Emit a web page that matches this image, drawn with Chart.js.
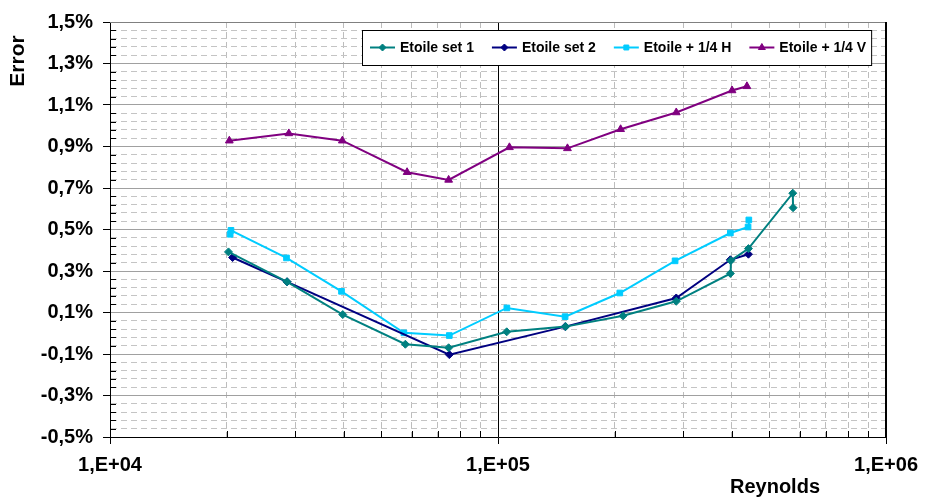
<!DOCTYPE html>
<html>
<head>
<meta charset="utf-8">
<title>Error vs Reynolds</title>
<script src="https://cdn.jsdelivr.net/npm/chart.js@4.4.1/dist/chart.umd.min.js"></script>
<style>
  html, body { margin: 0; padding: 0; background: #fff; }
  #wrap { position: relative; width: 927px; height: 498px; }
</style>
</head>
<body>
<div id="wrap"><canvas id="chartError"></canvas></div>
<script>
// values (error in %)

const seriesNames = ['Etoile set 1', 'Etoile set 2', 'Etoile + 1/4 H', 'Etoile + 1/4 V'];

const reSet1 = [2.02e4, 2.86e4, 3.98e4, 5.77e4, 7.46e4, 1.053e5, 1.494e5, 2.10e5, 2.88e5, 3.97e5, 3.98e5, 4.42e5, 5.75e5, 5.76e5];
const errSet1 = [0.392, 0.248, 0.090, -0.053, -0.070, 0.007, 0.032, 0.084, 0.154, 0.288, 0.350, 0.408, 0.675, 0.605];

const reSet2 = [2.07e4, 2.86e4, 7.49e4, 1.49e5, 2.88e5, 3.97e5, 4.42e5];
const errSet2 = [0.365, 0.248, -0.103, 0.032, 0.170, 0.354, 0.381];

const reQuarterH = [2.04e4, 2.05e4, 2.85e4, 3.95e4, 5.72e4, 7.49e4, 1.054e5, 1.489e5, 2.06e5, 2.86e5, 3.97e5, 4.41e5, 4.43e5];
const errQuarterH = [0.477, 0.496, 0.363, 0.202, 0.002, -0.011, 0.122, 0.080, 0.194, 0.349, 0.483, 0.512, 0.546];

const reQuarterV = [2.03e4, 2.89e4, 3.97e4, 5.83e4, 7.46e4, 1.07e5, 1.51e5, 2.07e5, 2.88e5, 4.01e5, 4.38e5];
const errQuarterV = [0.928, 0.963, 0.928, 0.776, 0.739, 0.896, 0.891, 0.983, 1.064, 1.170, 1.190];

const xMajorTicks = [1e4, 1e5, 1e6];
const xTickLabels = ['1,E+04', '1,E+05', '1,E+06'];
const yMajorTicks = [-0.5, -0.3, -0.1, 0.1, 0.3, 0.5, 0.7, 0.9, 1.1, 1.3, 1.5];
const yTickLabels = ['-0,5%', '-0,3%', '-0,1%', '0,1%', '0,3%', '0,5%', '0,7%', '0,9%', '1,1%', '1,3%', '1,5%'];
const yMinorStep = 0.04;

const FONT = "'Liberation Sans', Arial, Helvetica, sans-serif";
const colors = ['#008080', '#000080', '#00CCFF', '#800080'];
const pointStyles = ['rectRot', 'rectRot', 'rect', 'triangle'];
const pointSizes = [4, 4, 4, 4.5];

const indexOfMajor = (list, v) => list.findIndex((m) => Math.abs(m - v) < 1e-6 * Math.max(1, Math.abs(m)));
const isMajorX = (v) => indexOfMajor(xMajorTicks, v) >= 0;
const isMajorY = (v) => indexOfMajor(yMajorTicks, v) >= 0;

function buildXTicks() {
  const ticks = [];
  for (let d = 0; d < xMajorTicks.length - 1; d++) {
    for (let k = 1; k < 10; k++) ticks.push({ value: xMajorTicks[d] * k });
  }
  ticks.push({ value: xMajorTicks[xMajorTicks.length - 1] });
  return ticks;
}

function buildYTicks() {
  const first = yMajorTicks[0];
  const last = yMajorTicks[yMajorTicks.length - 1];
  const n = Math.round((last - first) / yMinorStep);
  const ticks = [];
  for (let i = 0; i <= n; i++) ticks.push({ value: Math.round((first + i * yMinorStep) * 1000) / 1000 });
  return ticks;
}

function toPoints(xs, ys) {
  return xs.map((x, i) => ({ x, y: ys[i] }));
}

const seriesData = [
  toPoints(reSet1, errSet1),
  toPoints(reSet2, errSet2),
  toPoints(reQuarterH, errQuarterH),
  toPoints(reQuarterV, errQuarterV),
];

function drawMarker(ctx, style, r, x, y) {
  if (Chart.helpers && Chart.helpers.drawPoint) {
    Chart.helpers.drawPoint(ctx, { pointStyle: style, radius: r, rotation: 0, borderWidth: 1 }, x, y);
    return;
  }
  ctx.beginPath();
  ctx.rect(x - r * 0.7, y - r * 0.7, r * 1.4, r * 1.4);
  ctx.fill();
}

// minor ticks inside the plot, frame, axis titles and the boxed legend
const chartDecor = {
  id: 'chartDecor',
  beforeDatasetsDraw(chart) {
    const { ctx, chartArea: area, scales: { x, y } } = chart;
    ctx.save();
    ctx.strokeStyle = '#000';
    ctx.lineWidth = 1;
    ctx.beginPath();
    x.ticks.forEach((t) => {
      if (isMajorX(t.value)) return;
      const px = Math.round(x.getPixelForValue(t.value)) + 0.5;
      ctx.moveTo(px, area.bottom);
      ctx.lineTo(px, area.bottom - 6);
    });
    y.ticks.forEach((t) => {
      if (isMajorY(t.value)) return;
      const py = Math.round(y.getPixelForValue(t.value)) + 0.5;
      ctx.moveTo(area.left, py);
      ctx.lineTo(area.left + 6, py);
    });
    ctx.stroke();

    ctx.beginPath();
    ctx.strokeStyle = '#808080';
    ctx.moveTo(area.left, Math.round(area.top) + 0.5);
    ctx.lineTo(area.right, Math.round(area.top) + 0.5);
    ctx.stroke();
    ctx.beginPath();
    ctx.strokeStyle = '#000';
    ctx.moveTo(Math.round(area.right) - 0.5, area.top);
    ctx.lineTo(Math.round(area.right) - 0.5, area.bottom);
    ctx.stroke();
    ctx.restore();
  },
  afterDraw(chart) {
    const { ctx } = chart;
    ctx.save();
    ctx.fillStyle = '#000';

    ctx.font = `bold 21px ${FONT}`;
    ctx.textAlign = 'center';
    ctx.textBaseline = 'middle';
    ctx.save();
    ctx.translate(18, 61);
    ctx.rotate(-Math.PI / 2);
    ctx.fillText('Error', 0, 0);
    ctx.restore();

    ctx.font = `bold 20px ${FONT}`;
    ctx.fillText('Reynolds', 775, 487);

    // legend
    ctx.font = `bold 14px ${FONT}`;
    const boxLeft = 362;
    const boxTop = 30;
    const boxHeight = 35;
    const midY = boxTop + boxHeight / 2;
    let cursor = boxLeft + 8;
    const items = chart.data.datasets.map((ds, i) => {
      const item = { x: cursor, ds, i, w: ctx.measureText(ds.label).width };
      cursor += 25 + 5 + item.w + 18;
      return item;
    });
    const last = items[items.length - 1];
    const boxRight = last.x + 30 + last.w + 5;

    ctx.fillStyle = '#fff';
    ctx.fillRect(boxLeft, boxTop, boxRight - boxLeft, boxHeight);
    ctx.strokeStyle = '#000';
    ctx.lineWidth = 1;
    ctx.strokeRect(boxLeft + 0.5, boxTop + 0.5, boxRight - boxLeft, boxHeight);

    items.forEach(({ x, ds, i }) => {
      ctx.strokeStyle = ds.borderColor;
      ctx.fillStyle = ds.backgroundColor;
      ctx.lineWidth = 2;
      ctx.beginPath();
      ctx.moveTo(x, midY);
      ctx.lineTo(x + 25, midY);
      ctx.stroke();
      ctx.lineWidth = 1;
      drawMarker(ctx, pointStyles[i], pointSizes[i] - 0.5, x + 12.5, midY);
      ctx.fillStyle = '#000';
      ctx.textAlign = 'left';
      ctx.textBaseline = 'middle';
      ctx.fillText(ds.label, x + 30, midY + 1);
    });
    ctx.restore();
  },
};

new Chart(document.getElementById('chartError'), {
  type: 'line',
  data: {
    datasets: seriesData.map((points, i) => ({
      label: seriesNames[i],
      data: points,
      borderColor: colors[i],
      backgroundColor: colors[i],
      borderWidth: 2,
      pointStyle: pointStyles[i],
      pointRadius: pointSizes[i],
      pointBorderWidth: 1,
      tension: 0,
      fill: false,
    })),
  },
  options: {
    responsive: true,
    maintainAspectRatio: false,
    animation: false,
    events: [],
    layout: { padding: { top: 20, right: 38, left: 0, bottom: 0 } },
    plugins: {
      legend: { display: false },
      tooltip: { enabled: false },
    },
    scales: {
      x: {
        type: 'logarithmic',
        min: xMajorTicks[0],
        max: xMajorTicks[xMajorTicks.length - 1],
        afterBuildTicks: (axis) => { axis.ticks = buildXTicks(); },
        afterFit: (axis) => { axis.height = 61; },
        ticks: {
          autoSkip: false,
          maxRotation: 0,
          minRotation: 0,
          padding: 9,
          color: '#000',
          font: { family: FONT, size: 20, weight: 'bold' },
          callback: (v) => {
            const i = indexOfMajor(xMajorTicks, v);
            return i >= 0 ? xTickLabels[i] : '';
          },
        },
        grid: {
          color: (c) => (c.tick && isMajorX(c.tick.value) ? '#000' : '#bdbdbd'),
          lineWidth: 1,
          tickLength: 7,
          tickColor: (c) => (c.tick && isMajorX(c.tick.value) ? '#000' : 'rgba(0,0,0,0)'),
        },
        border: {
          color: '#000',
          width: 1,
          dash: (c) => (c.tick && !isMajorX(c.tick.value) ? [6, 4] : []),
        },
      },
      y: {
        type: 'linear',
        min: yMajorTicks[0],
        max: yMajorTicks[yMajorTicks.length - 1],
        afterBuildTicks: (axis) => { axis.ticks = buildYTicks(); },
        afterFit: (axis) => { axis.width = 110; },
        ticks: {
          autoSkip: false,
          padding: 10,
          color: '#000',
          font: { family: FONT, size: 20, weight: 'bold' },
          callback: (v) => {
            const i = indexOfMajor(yMajorTicks, v);
            return i >= 0 ? yTickLabels[i] : '';
          },
        },
        grid: {
          color: (c) => (c.tick && isMajorY(c.tick.value) ? '#a0a0a0' : '#c4c4c4'),
          lineWidth: 1,
          tickLength: 7,
          tickColor: (c) => (c.tick && isMajorY(c.tick.value) ? '#000' : 'rgba(0,0,0,0)'),
        },
        border: {
          color: '#000',
          width: 1,
          dash: (c) => (c.tick && !isMajorY(c.tick.value) ? [6, 4] : []),
        },
      },
    },
  },
  plugins: [chartDecor],
});
</script>
</body>
</html>
